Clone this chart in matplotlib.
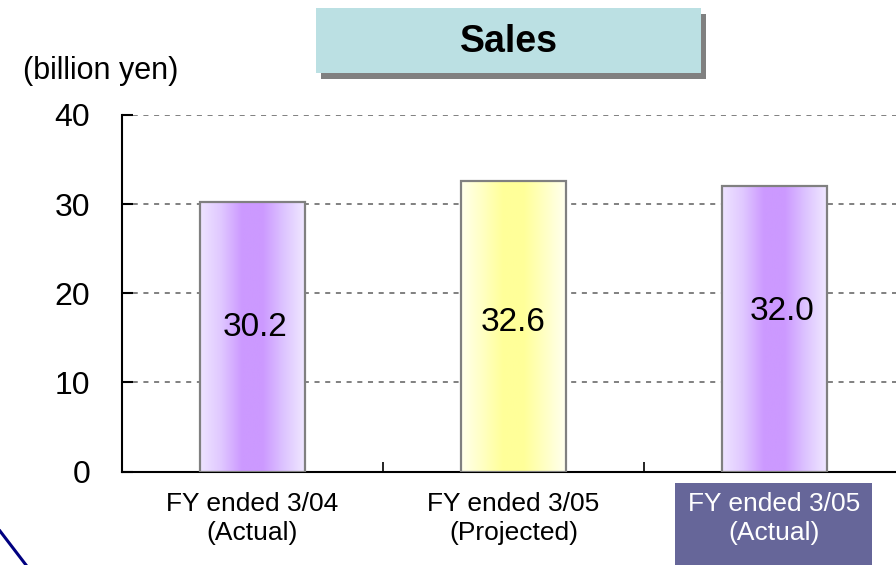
import numpy as np
import matplotlib
matplotlib.use("Agg")
import matplotlib.pyplot as plt
from matplotlib.colors import LinearSegmentedColormap
from matplotlib.patches import Rectangle
from matplotlib.lines import Line2D

# data
categories = ["FY ended 3/04\n(Actual)", "FY ended 3/05\n(Projected)", "FY ended 3/05\n(Actual)"]
sales = [30.2, 32.6, 32.0]
value_labels = ["30.2", "32.6", "32.0"]
y_ticks = [0, 10, 20, 30, 40]

plt.rcParams['font.family'] = ['Liberation Sans', 'DejaVu Sans']

W, H = 896, 565
fig = plt.figure(figsize=(W / 100, H / 100), dpi=100)

# axes box in pixels: left 122, right 905 (cut off), bottom 471.5, top 115
ax = fig.add_axes([122 / W, (H - 471.5) / H, (905 - 122) / W, (471.5 - 115) / H])
ax.patch.set_alpha(0)

# gradient colours for each bar (edge -> centre -> edge)
purple = LinearSegmentedColormap.from_list(
    "purple", ["#EEE4FF", "#E0C8FF", "#CC99FF", "#CC99FF", "#DDC4FF", "#F0E8FF"])
yellow = LinearSegmentedColormap.from_list(
    "yellow", ["#FFFFEC", "#FFFFC4", "#FFFF99", "#FFFF99", "#FFFFC4", "#FFFFF0"])
bar_cmaps = [purple, yellow, purple]

x = np.arange(len(categories))
bw = 0.4
bars = ax.bar(x, sales, width=bw, facecolor="none", edgecolor="#808080",
              linewidth=1.6, zorder=4)
grad = np.linspace(0, 1, 256).reshape(1, -1)
for b, cm in zip(bars, bar_cmaps):
    bx, by = b.get_x(), b.get_y()
    im = ax.imshow(grad, cmap=cm, aspect="auto", zorder=3,
                   extent=[bx, bx + b.get_width(), by, by + b.get_height()])
    im.set_clip_path(b)
ax.set_xlim(-0.5, 2.5)
ax.set_ylim(0, 40)

# value labels inside the bars
label_y = [16.2, 16.7, 18.0]
label_dx = [0.01, 0.0, 0.03]
for i, t in enumerate(value_labels):
    ax.text(x[i] + label_dx[i], label_y[i], t, ha="center", va="center",
            fontsize=24, zorder=5)

# grid and spines
ax.set_yticks(y_ticks)
ax.set_yticklabels([str(v) for v in y_ticks], fontsize=23)
ax.yaxis.grid(True, color="#808080", linestyle=(0, (2.6, 2.9)), linewidth=1.4, zorder=1)
ax.set_axisbelow(True)
for s in ["top", "right"]:
    ax.spines[s].set_visible(False)
for s in ["left", "bottom"]:
    ax.spines[s].set_linewidth(1.5)
ax.tick_params(axis="y", direction="in", length=8, width=1.5, pad=23)
ax.set_xticks([0.5, 1.5])
ax.set_xticklabels([])
ax.tick_params(axis="x", direction="in", length=7, width=1.2)

# highlight box behind the last category label
fig.patches.append(Rectangle((675 / W, 0), 197 / W, (565 - 483) / H,
                             transform=fig.transFigure, facecolor="#666699",
                             edgecolor="none", zorder=-1))

# category labels
for i, c in enumerate(categories):
    col = "white" if i == 2 else "black"
    ax.text(x[i], -2.35, c, ha="center", va="top", fontsize=19, color=col,
            linespacing=1.22, clip_on=False, zorder=6)

# unit label
fig.text(101 / W, 1 - 71 / H, "(billion yen)", ha="center", va="center", fontsize=22)

# title box with shadow
fig.patches.append(Rectangle((321 / W, 1 - 79 / H), 385 / W, 65 / H,
                             transform=fig.transFigure, facecolor="#808080",
                             edgecolor="none", zorder=1))
fig.patches.append(Rectangle((316 / W, 1 - 73 / H), 385 / W, 65 / H,
                             transform=fig.transFigure, facecolor="#BBE0E3",
                             edgecolor="none", zorder=2))
fig.text(508.5 / W, 1 - 42.5 / H, "Sales", ha="center", va="center",
         fontsize=27, fontweight="bold", zorder=3)

# navy decoration line bottom-left
fig.lines.append(Line2D([0, 26 / W], [1 - 531 / H, 0], transform=fig.transFigure,
                        color="#000080", linewidth=2.2))

fig.savefig("out.png", dpi=100)
